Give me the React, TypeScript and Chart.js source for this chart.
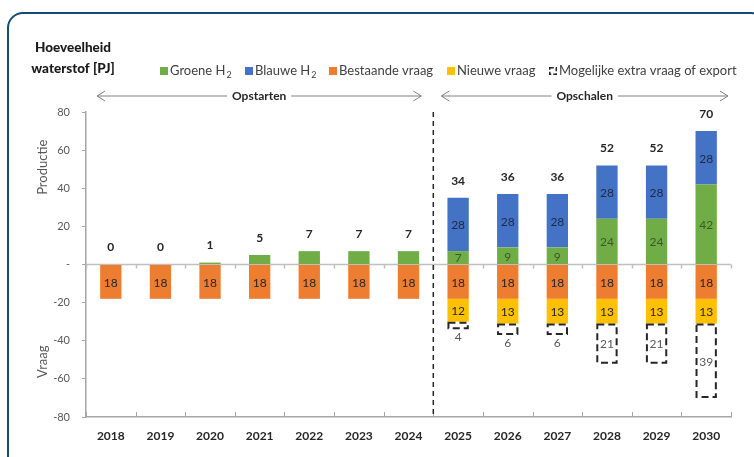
import React, { useEffect, useRef } from "react";
import { Chart, registerables } from "chart.js";

Chart.register(...registerables);

const years = ["2018", "2019", "2020", "2021", "2022", "2023", "2024", "2025", "2026", "2027", "2028", "2029", "2030"];
const groene = [0, 0, 1, 5, 7, 7, 7, 7, 9, 9, 24, 24, 42];
const blauwe = [0, 0, 0, 0, 0, 0, 0, 28, 28, 28, 28, 28, 28];
const bestaande = [18, 18, 18, 18, 18, 18, 18, 18, 18, 18, 18, 18, 18];
const nieuwe = [0, 0, 0, 0, 0, 0, 0, 12, 13, 13, 13, 13, 13];
const extra = [0, 0, 0, 0, 0, 0, 0, 4, 6, 6, 21, 21, 39];
const totaal = [0, 0, 1, 5, 7, 7, 7, 34, 36, 36, 52, 52, 70];
const phases = ["Opstarten", "Opschalen"];
const phaseSplit = 7; // first category index of second phase

const GREEN = "#70ad47";
const BLUE = "#4472c4";
const ORANGE = "#ed7d31";
const YELLOW = "#ffc000";
const FONT = "Lato";

const legendItems = [
  { text: "Groene H", sub: "2", color: GREEN, x: 160 },
  { text: "Blauwe H", sub: "2", color: BLUE, x: 245 },
  { text: "Bestaande vraag", sub: "", color: ORANGE, x: 329 },
  { text: "Nieuwe vraag", sub: "", color: YELLOW, x: 447 },
  { text: "Mogelijke extra vraag of export", sub: "", color: null, x: 549 },
];

function drawArrow(ctx: CanvasRenderingContext2D, x1: number, x2: number, y: number, label: string) {
  ctx.save();
  ctx.font = `bold 12px ${FONT}`;
  const tw = ctx.measureText(label).width;
  const cx = (x1 + x2) / 2;
  ctx.strokeStyle = "#808080";
  ctx.lineWidth = 1;
  ctx.beginPath();
  ctx.moveTo(x1, y);
  ctx.lineTo(cx - tw / 2 - 5, y);
  ctx.moveTo(cx + tw / 2 + 5, y);
  ctx.lineTo(x2, y);
  ctx.moveTo(x1 + 8, y - 5);
  ctx.lineTo(x1, y);
  ctx.lineTo(x1 + 8, y + 5);
  ctx.moveTo(x2 - 8, y - 5);
  ctx.lineTo(x2, y);
  ctx.lineTo(x2 - 8, y + 5);
  ctx.stroke();
  ctx.fillStyle = "#262626";
  ctx.textAlign = "center";
  ctx.textBaseline = "middle";
  ctx.fillText(label, cx, y);
  ctx.restore();
}

const decorPlugin = {
  id: "decor",
  beforeDatasetsDraw(chart: any) {
    const { ctx, chartArea, scales } = chart;
    const y = scales.y;
    const y0 = y.getPixelForValue(0);
    const n = years.length;
    const w = (chartArea.right - chartArea.left) / n;
    ctx.save();
    ctx.strokeStyle = "#bfbfbf";
    ctx.lineWidth = 1.5;
    ctx.beginPath();
    ctx.moveTo(chartArea.left, y0);
    ctx.lineTo(chartArea.right, y0);
    for (let i = 0; i <= n; i++) {
      const xx = Math.round(chartArea.left + i * w) + 0.5;
      ctx.moveTo(xx, y0);
      ctx.lineTo(xx, y0 + 4);
    }
    ctx.stroke();
    ctx.strokeStyle = "#a6a6a6";
    ctx.lineWidth = 1;
    ctx.beginPath();
    for (let i = 0; i <= n; i++) {
      const xx = Math.round(chartArea.left + i * w) + 0.5;
      ctx.moveTo(xx, chartArea.bottom);
      ctx.lineTo(xx, chartArea.bottom - 5);
    }
    ctx.stroke();
    ctx.restore();
  },
  afterDatasetsDraw(chart: any) {
    const { ctx, chartArea, scales } = chart;
    const x = scales.x;
    const y = scales.y;
    const n = years.length;
    const mG = chart.getDatasetMeta(0).data;
    const mB = chart.getDatasetMeta(1).data;
    const mO = chart.getDatasetMeta(2).data;
    const mY = chart.getDatasetMeta(3).data;
    const mE = chart.getDatasetMeta(4).data;
    ctx.save();
    ctx.textAlign = "center";
    ctx.textBaseline = "middle";
    for (let i = 0; i < n; i++) {
      const g = mG[i], b = mB[i], o = mO[i], yy = mY[i], e = mE[i];
      ctx.font = `12px ${FONT}`;
      if (blauwe[i] > 0) {
        ctx.fillStyle = "#3b5a25";
        ctx.fillText(String(groene[i]), g.x, (g.y + g.base) / 2 + 1);
        ctx.fillStyle = "#1e2a44";
        ctx.fillText(String(blauwe[i]), b.x, (b.y + b.base) / 2 + 1);
      }
      ctx.fillStyle = "#262626";
      ctx.fillText(String(bestaande[i]), o.x, (o.y + o.base) / 2 + 1);
      if (nieuwe[i] > 0) {
        ctx.fillText(String(nieuwe[i]), yy.x, (yy.y + yy.base) / 2 + 1);
      }
      if (extra[i] > 0) {
        const left = e.x - e.width / 2 + 1;
        const right = e.x + e.width / 2 - 1;
        const top = Math.min(e.y, e.base) + 1;
        const bot = Math.max(e.y, e.base) - 1;
        ctx.save();
        ctx.strokeStyle = "#262626";
        ctx.lineWidth = 2;
        ctx.setLineDash([7, 4]);
        ctx.strokeRect(left, top, right - left, bot - top);
        ctx.restore();
        ctx.fillStyle = "#595959";
        ctx.font = `12px ${FONT}`;
        if (extra[i] < 10) {
          ctx.fillText(String(extra[i]), e.x, bot + 9);
        } else {
          ctx.fillText(String(extra[i]), e.x, (top + bot) / 2 + 1);
        }
      }
      const topY = Math.min(g.y, b.y);
      ctx.fillStyle = "#262626";
      ctx.font = `bold 12px ${FONT}`;
      ctx.fillText(String(totaal[i]), g.x, topY - 17);
    }
    ctx.restore();

    const sepX = (x.getPixelForValue(phaseSplit - 1) + x.getPixelForValue(phaseSplit)) / 2;
    ctx.save();
    ctx.strokeStyle = "#262626";
    ctx.lineWidth = 1.5;
    ctx.setLineDash([5, 4]);
    ctx.beginPath();
    ctx.moveTo(sepX, chartArea.top);
    ctx.lineTo(sepX, chartArea.bottom);
    ctx.stroke();
    ctx.restore();

    const ay = chartArea.top - 16;
    drawArrow(ctx, chartArea.left + 11, sepX - 12, ay, phases[0]);
    drawArrow(ctx, sepX + 8, chartArea.right - 3, ay, phases[1]);

    for (const [txt, val] of [["Productie", 51], ["Vraag", -51]] as [string, number][]) {
      ctx.save();
      ctx.fillStyle = "#595959";
      ctx.font = `13px ${FONT}`;
      ctx.textAlign = "center";
      ctx.textBaseline = "middle";
      ctx.translate(43, y.getPixelForValue(val));
      ctx.rotate(-Math.PI / 2);
      ctx.fillText(txt, 0, 0);
      ctx.restore();
    }

    ctx.save();
    ctx.fillStyle = "#1a1a1a";
    ctx.font = `900 13.5px ${FONT}`;
    ctx.textAlign = "center";
    ctx.textBaseline = "middle";
    ctx.fillText("Hoeveelheid", 73, 48);
    ctx.fillText("waterstof [PJ]", 73, 69);
    ctx.restore();

    ctx.save();
    const ly = 71;
    ctx.textBaseline = "middle";
    ctx.textAlign = "left";
    for (const it of legendItems) {
      if (it.color) {
        ctx.fillStyle = it.color;
        ctx.fillRect(it.x, ly - 4, 8, 8);
      } else {
        ctx.strokeStyle = "#262626";
        ctx.lineWidth = 1.5;
        ctx.setLineDash([4, 2]);
        ctx.strokeRect(it.x + 0.75, ly - 3.25, 6.5, 6.5);
        ctx.setLineDash([]);
      }
      ctx.fillStyle = "#404040";
      ctx.font = `13px ${FONT}`;
      ctx.fillText(it.text, it.x + 10, ly);
      if (it.sub) {
        const tw = ctx.measureText(it.text).width;
        ctx.font = `9px ${FONT}`;
        ctx.fillText(it.sub, it.x + 10 + tw + 1, ly + 4);
      }
    }
    ctx.restore();
  },
};

export default function App() {
  const ref = useRef<HTMLCanvasElement | null>(null);
  useEffect(() => {
    if (!ref.current) return;
    const neg = (a: number[]) => a.map((v) => -v);
    const chart = new Chart(ref.current, {
      type: "bar",
      data: {
        labels: years,
        datasets: [
          { label: "Groene H2", data: groene, backgroundColor: GREEN, stack: "s" },
          { label: "Blauwe H2", data: blauwe, backgroundColor: BLUE, stack: "s" },
          { label: "Bestaande vraag", data: neg(bestaande), backgroundColor: ORANGE, stack: "s" },
          { label: "Nieuwe vraag", data: neg(nieuwe), backgroundColor: YELLOW, stack: "s" },
          { label: "Mogelijke extra vraag of export", data: neg(extra), backgroundColor: "rgba(0,0,0,0)", borderWidth: 0, stack: "s" },
        ],
      },
      options: {
        responsive: false,
        animation: false,
        devicePixelRatio: 1,
        layout: { padding: { top: 112, right: 23, left: 0, bottom: 0 } },
        datasets: { bar: { categoryPercentage: 1, barPercentage: 0.43 } },
        plugins: { legend: { display: false }, tooltip: { enabled: false }, title: { display: false } },
        scales: {
          x: {
            stacked: true,
            grid: { display: true, drawOnChartArea: false, drawTicks: false },
            border: { display: true, color: "#a6a6a6", width: 1.5 },
            ticks: { color: "#262626", font: { family: FONT, size: 12, weight: "bold" }, padding: 12, maxRotation: 0 },
            afterFit: (s: any) => { s.height = 40; },
          },
          y: {
            stacked: true,
            min: -80,
            max: 80,
            grid: { display: true, drawOnChartArea: false, drawTicks: true, tickLength: 4, color: "#a6a6a6" },
            border: { display: true, color: "#a6a6a6", width: 1.5 },
            ticks: {
              stepSize: 20,
              color: "#595959",
              font: { family: FONT, size: 11 },
              padding: 12,
              callback: (v: any) => (Number(v) === 0 ? "-" : String(v)),
            },
            afterFit: (s: any) => { s.width = 86; },
          },
        },
      },
      plugins: [decorPlugin],
    } as any);
    return () => chart.destroy();
  }, []);
  return (
    <div style={{ position: "absolute", left: 0, top: 0, width: 754, height: 457, background: "#fff", overflow: "hidden" }}>
      <div
        style={{
          position: "absolute",
          left: 7,
          top: 12,
          width: 760,
          height: 470,
          border: "2px solid #144a73",
          borderRadius: 16,
          boxSizing: "border-box",
        }}
      />
      <canvas ref={ref} width={754} height={457} style={{ position: "absolute", left: 0, top: 0, width: 754, height: 457 }} />
    </div>
  );
}
